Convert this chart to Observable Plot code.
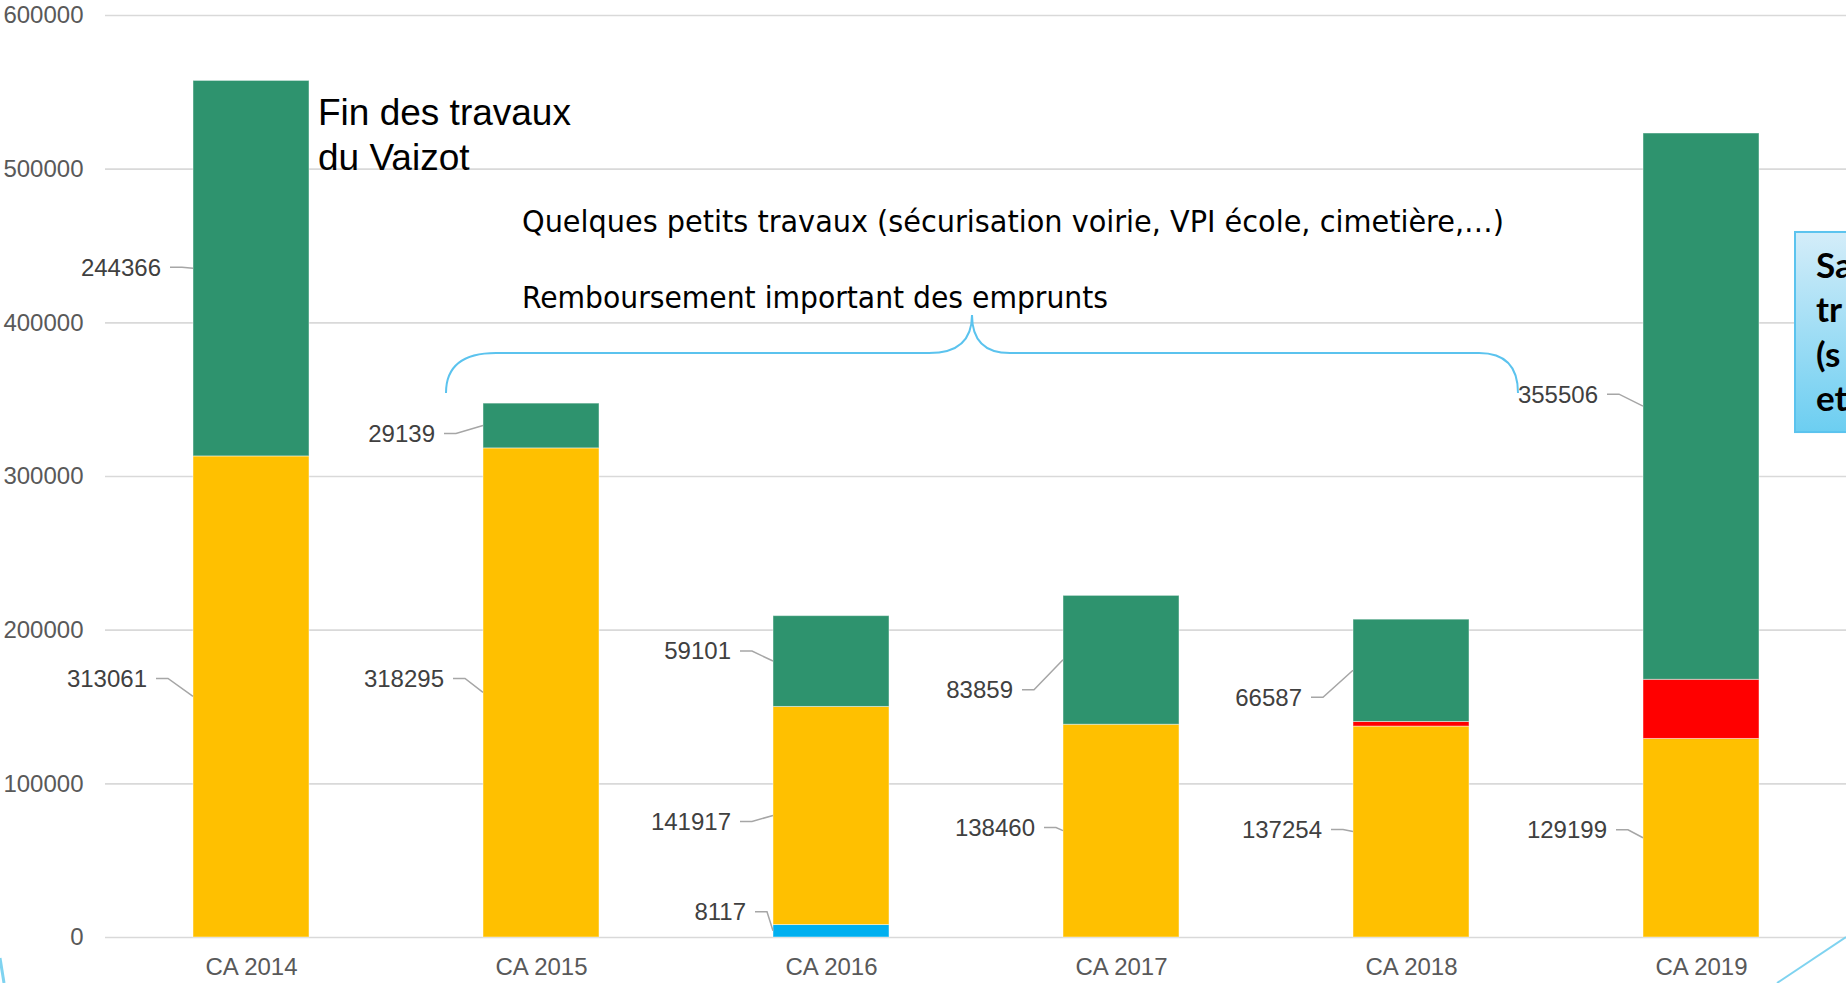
<!DOCTYPE html>
<html>
<head>
<meta charset="utf-8">
<script src="https://cdn.jsdelivr.net/npm/d3@7"></script>
<script src="https://cdn.jsdelivr.net/npm/@observablehq/plot@0.6"></script>
<style>
  html, body { margin: 0; padding: 0; background: #ffffff; overflow: hidden; }
  #chart svg { display: block; }
</style>
</head>
<body>
<div id="chart"></div>
<script>
// ---- Data ----
const categories = ["CA 2014", "CA 2015", "CA 2016", "CA 2017", "CA 2018", "CA 2019"];
const seriesNames = ["Série bleue", "Série jaune", "Série rouge", "Série verte"];
const seriesColors = ["#00B0F0", "#FFC000", "#FF0000", "#2E936E"];
const blueValues   = [0, 0, 8117, 0, 0, 0];
const yellowValues = [313061, 318295, 141917, 138460, 137254, 129199];
const redValues    = [0, 0, 0, 0, 3000, 38500];
const greenValues  = [244366, 29139, 59101, 83859, 66587, 355506];
const yTicks = [0, 100000, 200000, 300000, 400000, 500000, 600000];

// data-label placement (pixel offsets of the label from the bar's left edge / segment middle)
const greenLabelDx  = [-32, -48, -42, -50, -51, -45];
const greenLabelDy  = [-1, 8, -10, 30, 27, -12];
const yellowLabelDx = [-46, -39, -42, -28, -31, -36];
const yellowLabelDy = [-18, -14, 6, -3, -2, -8];
const blueLabelDx   = [null, null, -27, null, null, null];
const blueLabelDy   = [null, null, -19, null, null, null];

const seriesValues = [blueValues, yellowValues, redValues, greenValues];

// table for Plot
const rows = [];
categories.forEach((c, i) => {
  seriesNames.forEach((s, k) => {
    const v = seriesValues[k][i];
    if (v > 0) rows.push({category: c, series: s, value: v});
  });
});

const plot = Plot.plot({
  width: 1846,
  height: 983,
  marginLeft: 105,
  marginRight: 0,
  marginTop: 15,
  marginBottom: 46,
  style: {fontFamily: "'Liberation Sans', Arial, sans-serif", fontSize: "24px", color: "#595959", background: "#ffffff"},
  x: {domain: categories, paddingInner: 0.6, paddingOuter: 0.3, label: null},
  y: {domain: [0, 600000], label: null},
  color: {domain: seriesNames, range: seriesColors},
  marks: [
    Plot.gridY(yTicks, {stroke: "#d9d9d9", strokeOpacity: 1, strokeWidth: 1.6}),
    Plot.barY(rows, {x: "category", y: "value", fill: "series", order: seriesNames,
                     stroke: "#ffffff", strokeOpacity: 0.45, strokeWidth: 1}),
    Plot.axisY(yTicks, {tickSize: 0, tickPadding: 22, tickFormat: d => String(d), fontSize: 24, fill: "#595959", label: null}),
    Plot.axisX({tickSize: 0, tickPadding: 20, fontSize: 24, fill: "#595959", label: null})
  ]
});

document.getElementById("chart").appendChild(plot);

// ---- labels and annotations placed through the plot's own scales ----
const xs = plot.scale("x");
const ys = plot.scale("y");
const bw = xs.bandwidth;
const svg = d3.select(plot);

const labelLayer = svg.append("g");
categories.forEach((c, i) => {
  const barLeft = xs.apply(c);
  let base = 0;
  seriesNames.forEach((s, k) => {
    const v = seriesValues[k][i];
    const mid = ys.apply(base + v / 2);
    base += v;
    let dx = null, dy = null;
    if (k === 0) { dx = blueLabelDx[i]; dy = blueLabelDy[i]; }
    if (k === 1) { dx = yellowLabelDx[i]; dy = yellowLabelDy[i]; }
    if (k === 3) { dx = greenLabelDx[i]; dy = greenLabelDy[i]; }
    if (v <= 0 || dx == null) return;
    const lx = barLeft + dx, ly = mid + dy;
    labelLayer.append("polyline")
      .attr("points", `${lx + 9},${ly} ${lx + 21},${ly} ${barLeft},${mid}`)
      .attr("fill", "none").attr("stroke", "#a6a6a6").attr("stroke-width", 1.5);
    labelLayer.append("text")
      .attr("x", lx).attr("y", ly).attr("dy", "0.35em")
      .attr("text-anchor", "end")
      .attr("fill", "#404040")
      .attr("font-family", "'Liberation Sans', Arial, sans-serif")
      .attr("font-size", 24)
      .text(String(v));
  });
});

// "Fin des travaux du Vaizot"
const finX = xs.apply("CA 2014") + bw + 9;
const finY = ys.apply(528400);
const fin = svg.append("text")
  .attr("text-anchor", "start")
  .attr("font-family", "'Liberation Sans', Arial, sans-serif")
  .attr("font-size", 37).attr("fill", "#000000");
fin.append("tspan").attr("x", finX).attr("y", finY).text("Fin des travaux");
fin.append("tspan").attr("x", finX).attr("y", finY + 45).text("du Vaizot");

// Middle annotations
const noteX = xs.apply("CA 2015") + 39;
svg.append("text")
  .attr("x", noteX).attr("y", ys.apply(458500))
  .attr("text-anchor", "start")
  .attr("font-family", "'DejaVu Sans Condensed', 'DejaVu Sans', sans-serif")
  .attr("font-stretch", "condensed")
  .attr("font-size", 30).attr("fill", "#000000")
  .attr("textLength", 982).attr("lengthAdjust", "spacingAndGlyphs")
  .text("Quelques petits travaux (sécurisation voirie, VPI école, cimetière,…)");
svg.append("text")
  .attr("x", noteX).attr("y", ys.apply(409300))
  .attr("text-anchor", "start")
  .attr("font-family", "'DejaVu Sans Condensed', 'DejaVu Sans', sans-serif")
  .attr("font-stretch", "condensed")
  .attr("font-size", 30).attr("fill", "#000000")
  .attr("textLength", 586).attr("lengthAdjust", "spacingAndGlyphs")
  .text("Remboursement important des emprunts");

// Curly brace
const bL = xs.apply("CA 2015") - 37;
const bR = xs.apply("CA 2019") - 125;
const bP = (xs.apply("CA 2016") + bw + xs.apply("CA 2017")) / 2 - 4;
const yEnd = ys.apply(354000), yH = ys.apply(380000), yPeak = ys.apply(404800);
svg.append("path")
  .attr("d", `M${bL},${yEnd} Q${bL},${yH} ${bL + 50},${yH} L${bP - 43},${yH} Q${bP},${yH} ${bP},${yPeak} ` +
             `Q${bP},${yH} ${bP + 38},${yH} L${bR - 39},${yH} Q${bR},${yH} ${bR},${yEnd}`)
  .attr("fill", "none").attr("stroke", "#5BC3EE").attr("stroke-width", 2);

// Clipped callout box on the right
const defs = svg.append("defs");
const grad = defs.append("linearGradient").attr("id", "boxgrad").attr("x1", 0).attr("y1", 0).attr("x2", 0).attr("y2", 1);
grad.append("stop").attr("offset", "0%").attr("stop-color", "#D4EDF9");
grad.append("stop").attr("offset", "100%").attr("stop-color", "#6CCEF1");
const boxX = xs.apply("CA 2019") + bw + 36;
const boxTop = ys.apply(458800), boxBottom = ys.apply(328600);
svg.append("rect")
  .attr("x", boxX).attr("y", boxTop).attr("width", 200).attr("height", boxBottom - boxTop)
  .attr("fill", "url(#boxgrad)").attr("stroke", "#5BC3EE").attr("stroke-width", 2);
const boxText = svg.append("text")
  .attr("text-anchor", "start")
  .attr("font-family", "Lato, 'Open Sans', sans-serif").attr("font-weight", "bold")
  .attr("font-size", 35).attr("fill", "#000000");
["Sa", "tr", "(s", "et"].forEach((t, j) => {
  boxText.append("tspan").attr("x", boxX + 21).attr("y", boxTop + 46 + j * 44.5).text(t);
});

// slide decoration lines
svg.append("line")
  .attr("x1", 1846).attr("y1", ys.apply(0)).attr("x2", 1777).attr("y2", 983)
  .attr("stroke", "#7FD3F0").attr("stroke-width", 2);
svg.append("line")
  .attr("x1", 0).attr("y1", 958).attr("x2", 4).attr("y2", 983)
  .attr("stroke", "#7FD3F0").attr("stroke-width", 3);
</script>
</body>
</html>
